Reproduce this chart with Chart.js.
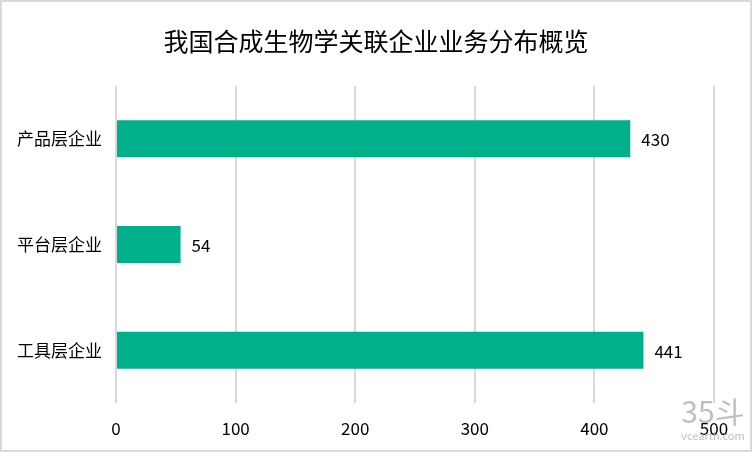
<!DOCTYPE html>
<html>
<head>
<meta charset="utf-8">
<script src="https://cdn.jsdelivr.net/npm/chart.js@4"></script>
<style>
    body { margin: 0; background: #fff; }
    .frame {
        width: 752px; height: 452px;
        box-sizing: border-box;
        border: 2px solid #d9d9d9;
    }
    canvas { display: block; }
</style>
</head>
<body>
<div class="frame">
    <canvas id="chart" width="748" height="448"></canvas>
</div>
<script>
const title = '我国合成生物学关联企业业务分布概览';
const categories = ['产品层企业', '平台层企业', '工具层企业'];
const counts = [430, 54, 441];
const xTicks = [0, 100, 200, 300, 400, 500];

const FONT = '"Noto Sans CJK SC", "Noto Sans", sans-serif';
const barColor = '#00b08a';

// value labels just past the bar end
const valueLabels = {
    id: 'valueLabels',
    afterDatasetsDraw(chart) {
        const ctx = chart.ctx;
        const meta = chart.getDatasetMeta(0);
        ctx.save();
        ctx.font = '17px ' + FONT;
        ctx.fillStyle = '#000';
        ctx.textBaseline = 'middle';
        ctx.textAlign = 'left';
        meta.data.forEach((bar, i) => {
            ctx.fillText(String(counts[i]), bar.x + 11, bar.y + 1);
        });
        ctx.restore();
    }
};

// faint site watermark, bottom right
const watermark = {
    id: 'watermark',
    afterDraw(chart) {
        const ctx = chart.ctx;
        ctx.save();
        ctx.fillStyle = 'rgba(175,175,175,0.8)';
        ctx.textAlign = 'center';
        ctx.textBaseline = 'alphabetic';
        ctx.font = '30px ' + FONT;
        ctx.fillText('35斗', 711, 421);
        ctx.font = '11px ' + FONT;
        ctx.fillText('vcearth.com', 711, 438);
        ctx.restore();
    }
};

new Chart(document.getElementById('chart'), {
    type: 'bar',
    data: {
        labels: categories,
        datasets: [{
            data: counts,
            backgroundColor: barColor,
            barPercentage: 0.35,
            categoryPercentage: 1
        }]
    },
    options: {
        indexAxis: 'y',
        responsive: false,
        animation: false,
        scales: {
            x: {
                min: 0,
                max: 500,
                afterBuildTicks: axis => { axis.ticks = xTicks.map(v => ({value: v})); },
                grid: { color: '#d9d9d9', lineWidth: 2, drawTicks: false },
                border: { display: false },
                ticks: { color: '#000', font: { size: 17, family: FONT }, padding: 15 },
                afterFit: axis => { axis.height = 47; }
            },
            y: {
                grid: { display: false, drawTicks: false },
                border: { display: false },
                ticks: { color: '#000', font: { size: 17, family: FONT }, padding: 14 },
                afterFit: axis => { axis.width = 114; }
            },
            // empty spacer on the right so the title stays centred on the canvas
            spacer: {
                type: 'linear',
                position: 'right',
                grid: { display: false, drawTicks: false },
                border: { display: false },
                ticks: { display: false },
                afterFit: axis => { axis.width = 36; }
            }
        },
        plugins: {
            legend: { display: false },
            tooltip: { enabled: false },
            title: {
                display: true,
                text: title,
                color: '#000',
                font: { size: 25, family: FONT, weight: 'normal' },
                padding: { top: 24, bottom: 30 }
            }
        }
    },
    plugins: [valueLabels, watermark]
});
</script>
</body>
</html>
